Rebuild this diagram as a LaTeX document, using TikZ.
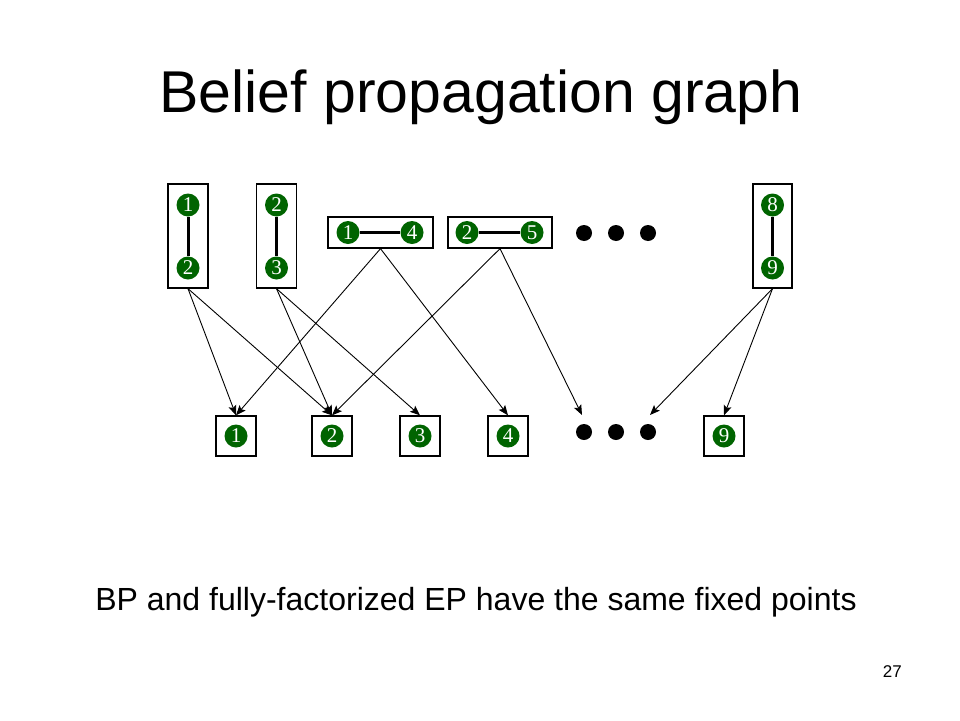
\documentclass[tikz,border=0pt]{standalone}
\usepackage{fontspec}
\setmainfont{Liberation Sans}
\newfontfamily\numfont{Liberation Serif}
\usetikzlibrary{arrows.meta}
\definecolor{dkgreen}{RGB}{0,100,0}
\tikzset{
  var/.style={circle, fill=dkgreen, text=white, inner sep=0pt, minimum size=23pt, font=\numfont\fontsize{21}{21}\selectfont},
  factor/.style={draw=black, line width=1.3pt, rectangle, inner sep=0pt},
  vbox/.style={factor, minimum width=40pt, minimum height=104pt},
  hbox/.style={factor, minimum width=105pt, minimum height=31pt},
  sbox/.style={factor, minimum width=40pt, minimum height=40pt},
  link/.style={line width=3pt},
  dotnode/.style={circle, fill=black, inner sep=0pt, minimum size=16pt},
  msg/.style={line width=0.9pt, -{Stealth[length=10pt,width=8pt,inset=2pt]}}
}
\begin{document}
\begin{tikzpicture}[x=1pt,y=-1pt]
\useasboundingbox (0,0) rectangle (960,720);
% title
\node[anchor=base, font=\fontsize{59}{59}\selectfont, inner sep=0pt] (title) at (481,112) {Belief propagation graph};
% top factor boxes
\node[vbox] (A) at (188,236) {};
\node[vbox] (B) at (276.5,236) {};
\node[hbox] (C) at (380.5,232.5) {};
\node[hbox, minimum width=104pt] (D) at (500,232.5) {};
\node[vbox, minimum width=39pt] (E) at (772.5,236) {};
% variables inside top boxes
\node[var] (a1) at (188,205) {1};
\node[var] (a2) at (188,268) {2};
\node[var] (b2) at (276.5,205) {2};
\node[var] (b3) at (276.5,268) {3};
\node[var] (c1) at (348,232.5) {1};
\node[var] (c4) at (412,232.5) {4};
\node[var] (d2) at (467,232.5) {2};
\node[var] (d5) at (532,232.5) {5};
\node[var] (e8) at (772.5,205) {8};
\node[var] (e9) at (772.5,268) {9};
\draw[link] (a1) -- (a2);
\draw[link] (b2) -- (b3);
\draw[link] (c1) -- (c4);
\draw[link] (d2) -- (d5);
\draw[link] (e8) -- (e9);
% top ellipsis dots
\node[dotnode] (td1) at (584,233) {};
\node[dotnode] (td2) at (616,233) {};
\node[dotnode] (td3) at (648,233) {};
% bottom variable boxes
\node[sbox] (V1) at (236,436) {};
\node[sbox] (V2) at (332,436) {};
\node[sbox] (V3) at (420,436) {};
\node[sbox] (V4) at (508,436) {};
\node[sbox] (V9) at (724,436) {};
\node[var] (v1) at (236,436) {1};
\node[var] (v2) at (332,436) {2};
\node[var] (v3) at (420,436) {3};
\node[var] (v4) at (508,436) {4};
\node[var] (v9) at (724,436) {9};
% bottom ellipsis dots
\node[dotnode] (bd1) at (584,432) {};
\node[dotnode] (bd2) at (616,432) {};
\node[dotnode] (bd3) at (648,432) {};
\coordinate (t1) at (582,415);
\coordinate (t3) at (650,415);
% messages
\draw[msg] (A.south) -- (V1.north);
\draw[msg] (A.south) -- (V2.north);
\draw[msg] (B.south) -- (V2.north);
\draw[msg] (B.south) -- (V3.north);
\draw[msg] (C.south) -- (V1.north);
\draw[msg] (C.south) -- (V4.north);
\draw[msg] (D.south) -- (V2.north);
\draw[msg] (D.south) -- (t1);
\draw[msg] (E.south) -- (t3);
\draw[msg] (E.south) -- (V9.north);
% caption
\node[anchor=base, font=\fontsize{32}{32}\selectfont, inner sep=0pt] (caption) at (476,610) {BP and fully-factorized EP have the same fixed points};
\node[anchor=base east, font=\fontsize{17}{17}\selectfont, inner sep=0pt] (page) at (902,677) {27};
\end{tikzpicture}
\end{document}
